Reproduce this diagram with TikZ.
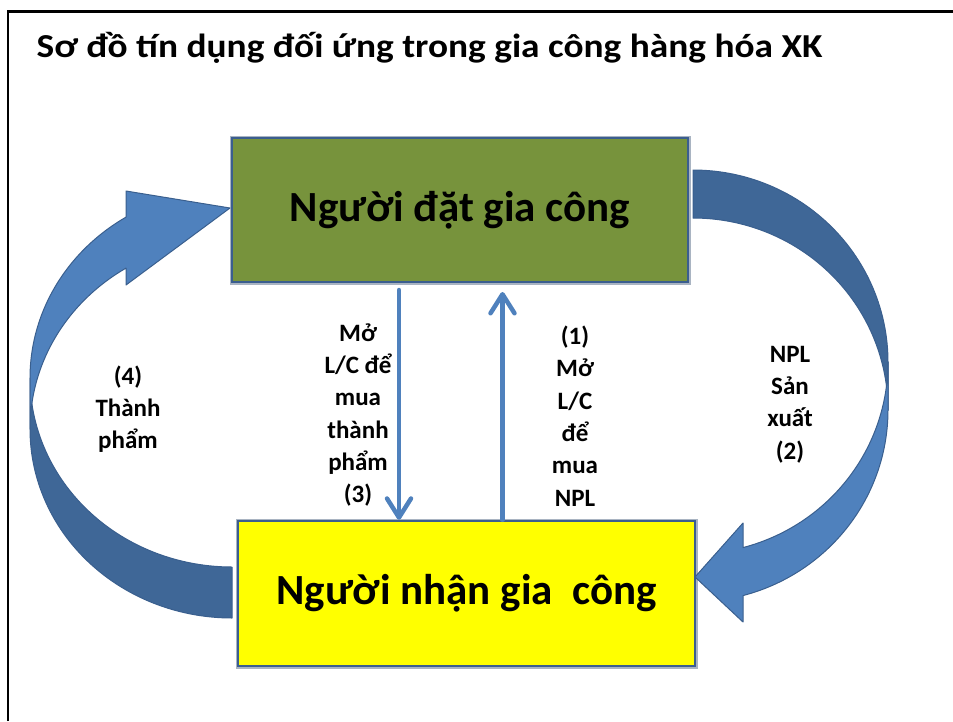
\documentclass[tikz,border=0pt]{standalone}
\usepackage{graphicx}
\usepackage{fontspec}
\setmainfont{Carlito}
\usetikzlibrary{arrows.meta}

\definecolor{boxgreen}{HTML}{77933C}
\definecolor{boxyellow}{HTML}{FFFF00}
\definecolor{boxedge}{HTML}{3B5E8F}
\definecolor{boxshade}{HTML}{A9B4C2}
\definecolor{flowlight}{HTML}{4F81BD}
\definecolor{flowdark}{HTML}{3F6797}
\definecolor{flowedge}{HTML}{3A5F8E}

\begin{document}
\begin{tikzpicture}[x=1pt,y=-1pt,
  party/.style={draw=boxedge, line width=2.5pt, inner sep=0pt,
    font=\fontsize{43}{50}\selectfont\bfseries},
  partyshade/.style={fill=boxshade},
  band/.style={draw=flowedge, line width=1pt, line join=round},
  vline/.style={draw=flowlight, line width=4.5pt, line cap=round,
    -{Straight Barb[length=19pt, width=24pt, line cap=round, line join=round]}},
  note/.style={align=center, font=\fontsize{25}{32.3}\selectfont\bfseries},
]
\useasboundingbox (0,0) rectangle (953,721);

% frame
\draw[line width=2.3pt] (8,721) -- (8,11.5) -- (953,11.5);

% heading
\node[anchor=base west, inner sep=0pt, font=\fontsize{33.5}{40}\selectfont\bfseries]
  (title) at (36.5,57.5) {\scalebox{1.115}[1]{Sơ đồ tín dụng đối ứng trong gia công hàng hóa XK}};

% soft shadows behind the two parties
\fill[partyshade] (230,136) rectangle (691,285);
\fill[partyshade] (236,519) rectangle (698,669);

% the two parties
\node[party, fill=boxgreen, minimum width=456pt, minimum height=144pt]
  (orderer) at (460,210) {Người đặt gia công};
\node[party, fill=boxyellow, minimum width=457pt, minimum height=145pt]
  (maker) at (466.5,593.5) {Người nhận gia\ \ công};

% left curved flow (4): tail at the maker, head at the orderer
\filldraw[band, fill=flowdark] (30,429)
  -- plot[domain=0:90, samples=60, variable=\t] ({232-202*cos(\t)},{429+189*sin(\t)})
  -- plot[domain=90:0, samples=60, variable=\t] ({232-202*cos(\t)},{378+189*sin(\t)})
  -- cycle;
\filldraw[band, fill=flowlight] (30,378)
  -- plot[domain=0:-58.35, samples=50, variable=\t] ({232-202*cos(\t)},{378+189*sin(\t)})
  -- (126,191) -- (230,208) -- (126,285)
  -- plot[domain=-58.35:0, samples=50, variable=\t] ({232-202*cos(\t)},{429+189*sin(\t)})
  -- cycle;

% right curved flow (2): tail at the orderer, head at the maker
\filldraw[band, fill=flowdark]
  plot[domain=-90:0, samples=60, variable=\t] ({693+195*cos(\t)},{362+192*sin(\t)})
  -- plot[domain=0:-90, samples=60, variable=\t] ({693+195*cos(\t)},{410+192*sin(\t)})
  -- cycle;
\filldraw[band, fill=flowlight]
  plot[domain=0:75.14, samples=60, variable=\t] ({693+195*cos(\t)},{410+192*sin(\t)})
  -- (743,622) -- (695,577) -- (743,523)
  -- plot[domain=75.14:0, samples=60, variable=\t] ({693+195*cos(\t)},{362+192*sin(\t)})
  -- cycle;

% straight flows between the parties
\coordinate (downstart) at (399,290);
\coordinate (upend) at (502.5,292);
\draw[vline] (downstart) -- (downstart |- maker.north);
\draw[vline] (upend |- maker.north) -- (upend);

% flow labels
\node[note] (lab3) at (358,415) {Mở\\L/C để\\mua\\thành\\phẩm\\(3)};
\node[note] (lab1) at (575,416) {(1)\\Mở\\L/C\\để\\mua\\NPL};
\node[note] (lab4) at (128,409) {(4)\\Thành\\phẩm};
\node[note] (lab2) at (790,404.5) {NPL\\Sản\\xuất\\(2)};
\end{tikzpicture}
\end{document}
